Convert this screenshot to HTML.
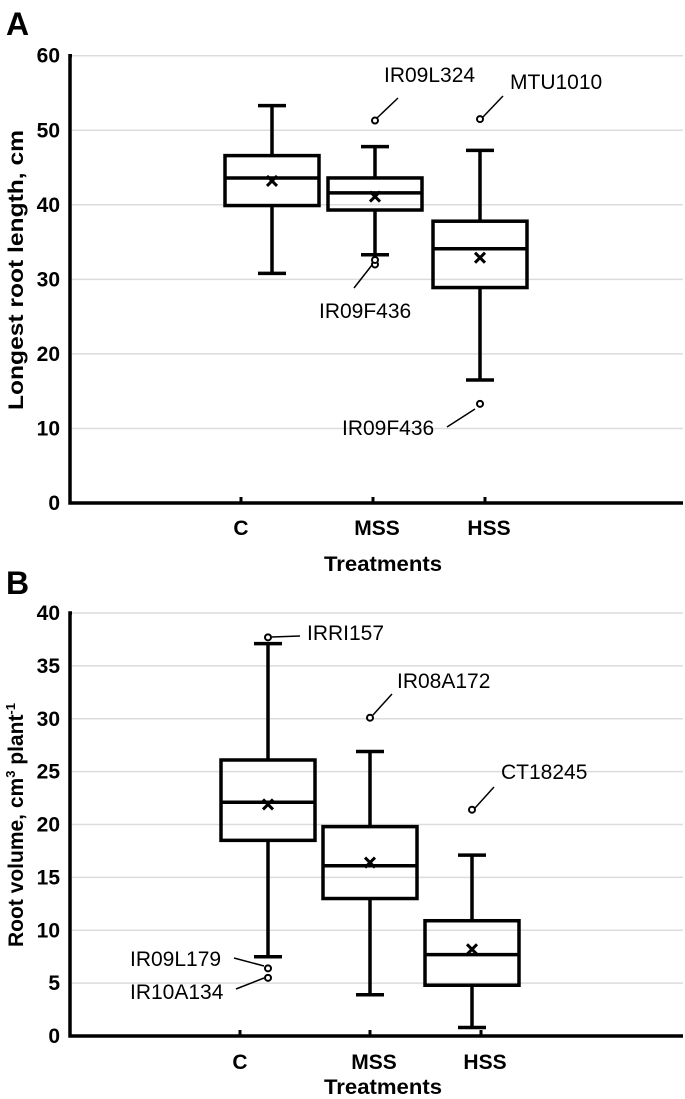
<!DOCTYPE html>
<html><head><meta charset="utf-8"><style>
body{margin:0;background:#fff}
svg{display:block;font-family:"Liberation Sans",Arial,sans-serif}
</style></head><body>
<svg id="s" width="685" height="1099" viewBox="0 0 685 1099"></svg>
<script>
const categories=["C","MSS","HSS"];
// Panel A: longest root length
const aWhiskerHigh=[53.3,47.8,47.3];
const aQ3=[46.6,43.6,37.8];
const aMedian=[43.6,41.6,34.1];
const aQ1=[39.9,39.3,28.9];
const aWhiskerLow=[30.8,33.3,16.5];
const aMean=[43.2,41.1,32.9];
const aOutlierCat=[1,1,1,2,2];
const aOutlierVal=[51.3,32.0,32.6,51.5,13.3];
const aTicks=[0,10,20,30,40,50,60];
// Panel B: root volume
const bWhiskerHigh=[37.1,26.9,17.1];
const bQ3=[26.1,19.8,10.9];
const bMedian=[22.1,16.1,7.7];
const bQ1=[18.5,13.0,4.8];
const bWhiskerLow=[7.5,3.9,0.8];
const bMean=[21.9,16.4,8.2];
const bOutlierCat=[0,0,0,1,2];
const bOutlierVal=[37.7,6.4,5.5,30.1,21.4];
const bTicks=[0,5,10,15,20,25,30,35,40];

const NS="http://www.w3.org/2000/svg";
const svg=document.getElementById('s');
function mk(tag,attrs,parent,txt){const e=document.createElementNS(NS,tag);for(const k in attrs)e.setAttribute(k,attrs[k]);if(txt!==undefined)e.textContent=txt;(parent||svg).appendChild(e);return e;}

function panel(cfg){
  const g=mk('g',{});
  
  
  const y=v=>cfg.y0-(v-0)*(cfg.y0-cfg.yTop)/cfg.max;
  const L=mk('text',{x:6,y:cfg.letterY,'font-size':32,'font-weight':'bold'},g,cfg.letter);
  
  
  cfg.ticks.forEach(t=>{
    if(t>0){const gl=mk('line',{x1:72,x2:683,y1:y(t),y2:y(t),stroke:'#dcdcdc','stroke-width':1.5},g);
      
      }
    const tl=mk('text',{x:60,y:y(t)+7,'font-size':21,'font-weight':'bold','text-anchor':'end'},g,t);
    
    
  });
  const ax=mk('path',{d:`M72 ${y(cfg.max)} L70 ${y(cfg.max)} L70 ${cfg.y0} L683 ${cfg.y0}`,fill:'none',stroke:'#000','stroke-width':3.5},g);
  
  
  categories.forEach((c,i)=>{
    const tx=cfg.tickX[i];
    const tk=mk('line',{x1:tx,x2:tx,y1:cfg.y0-6,y2:cfg.y0,stroke:'#000','stroke-width':3},g);
    
    
    const xl=mk('text',{x:tx+(i==0?0:4),y:cfg.xLabY,'font-size':21,'font-weight':'bold','text-anchor':'middle'},g,c);
    
    
  });
  const xt=mk('text',{x:383,y:cfg.xTitleY,'font-size':21,'font-weight':'bold','text-anchor':'middle',textLength:118,lengthAdjust:'spacingAndGlyphs'},g,'Treatments');
  
  
  const yt=mk('text',{x:0,y:0,'font-size':21,'font-weight':'bold','text-anchor':'middle',transform:`translate(23 ${cfg.yTitleY}) rotate(-90)`},g);
  
  
  yt.innerHTML=cfg.yTitle;
  const hw=47, cap=14;
  categories.forEach((c,i)=>{
    const cx=cfg.boxX[i];
    const bg=mk('g',{stroke:'#000','stroke-width':3.5,fill:'none'},g);
    
    
    mk('line',{x1:cx,x2:cx,y1:y(cfg.wh[i]),y2:y(cfg.q3[i])},bg);
    mk('line',{x1:cx,x2:cx,y1:y(cfg.q1[i]),y2:y(cfg.wl[i])},bg);
    mk('line',{x1:cx-cap,x2:cx+cap,y1:y(cfg.wh[i]),y2:y(cfg.wh[i])},bg);
    mk('line',{x1:cx-cap,x2:cx+cap,y1:y(cfg.wl[i]),y2:y(cfg.wl[i])},bg);
    mk('rect',{x:cx-hw,y:y(cfg.q3[i]),width:2*hw,height:y(cfg.q1[i])-y(cfg.q3[i])},bg);
    mk('line',{x1:cx-hw,x2:cx+hw,y1:y(cfg.med[i]),y2:y(cfg.med[i])},bg);
    const my=y(cfg.mean[i]);
    mk('path',{d:`M${cx-5} ${my-5}L${cx+5} ${my+5}M${cx+5} ${my-5}L${cx-5} ${my+5}`,'stroke-width':3},bg);
  });
  cfg.oc.forEach((ci,k)=>{
    const o=mk('circle',{cx:cfg.boxX[ci],cy:y(cfg.ov[k]),r:3,fill:'#fff',stroke:'#000','stroke-width':2},g);
    
    
  });
  cfg.ann.forEach(a=>{
    const l=mk('line',{x1:a[0],y1:a[1],x2:a[2],y2:a[3],stroke:'#000','stroke-width':1.5},g);
    
    
    const t=mk('text',{x:a[4],y:a[5],'font-size':21,'text-anchor':'start'},g,a[6]);
    
    
  });
}

panel({name:'panel-a-root-length',letter:'A',letterY:35,y0:503,yTop:55.7,max:60,ticks:aTicks,
  tickX:[241,373,485],boxX:[272,375,480],xLabY:535,xTitleY:571,yTitleY:270,
  yTitle:'<tspan textLength="280" lengthAdjust="spacingAndGlyphs">Longest root length, cm</tspan>',
  wh:aWhiskerHigh,q3:aQ3,med:aMedian,q1:aQ1,wl:aWhiskerLow,mean:aMean,oc:aOutlierCat,ov:aOutlierVal,
  ann:[[398,98,377,118,384,82,'IR09L324'],[503,96,483,117,510,89,'MTU1010'],
       [354,288,372,265,319,318,'IR09F436'],[447,427,475,409,342,435,'IR09F436']]});

panel({name:'panel-b-root-volume',letter:'B',letterY:594,y0:1036,yTop:613,max:40,ticks:bTicks,
  tickX:[240,370,481],boxX:[268,370,472],xLabY:1069,xTitleY:1094,yTitleY:825,
  yTitle:'Root volume, cm<tspan font-size="13" dy="-8">3</tspan><tspan dy="8"> plant</tspan><tspan font-size="13" dy="-8">-1</tspan>',
  wh:bWhiskerHigh,q3:bQ3,med:bMedian,q1:bQ1,wl:bWhiskerLow,mean:bMean,oc:bOutlierCat,ov:bOutlierVal,
  ann:[[272,637,300,636,307,640,'IRRI157'],[392,694,373,715,397,688,'IR08A172'],
       [494,787,475,808,501,779,'CT18245'],[234,958,264,966,130,966,'IR09L179'],[236,989,264,978,130,999,'IR10A134']]});
</script>
</body></html>
